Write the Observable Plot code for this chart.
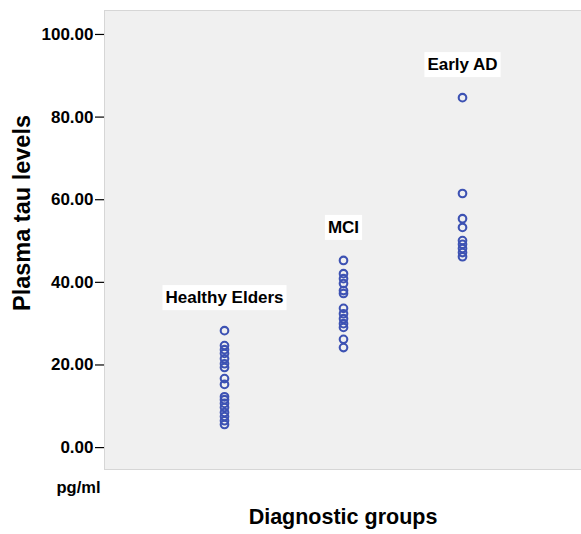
<!DOCTYPE html>
<html>
<head>
<meta charset="utf-8">
<script src="https://cdn.jsdelivr.net/npm/d3@7"></script>
<script src="https://cdn.jsdelivr.net/npm/@observablehq/plot@0.6"></script>
<style>
  html, body { margin: 0; padding: 0; background: #ffffff; }
  #chart svg { display: block; }
</style>
</head>
<body>
<div id="chart"></div>
<script>
const groups = ["Healthy Elders", "MCI", "Early AD"];
const healthyElders = [28.3, 24.7, 23.7, 22.8, 21.5, 20.3, 19.4, 16.7, 15.3, 12.3, 11.6, 10.7, 9.7, 8.5, 7.5, 6.5, 5.6];
const mci = [45.3, 42.1, 40.9, 39.7, 38.0, 37.3, 33.7, 32.4, 31.2, 30.0, 29.1, 26.2, 24.2];
const earlyAD = [84.7, 61.5, 55.4, 53.3, 50.1, 49.2, 48.2, 47.2, 46.2];
const yTicks = [0, 20, 40, 60, 80, 100];
const yLabel = "Plasma tau levels";
const xLabel = "Diagnostic groups";
const unitLabel = "pg/ml";

const series = [healthyElders, mci, earlyAD];
const points = groups.flatMap((g, i) => series[i].map(v => ({group: g, value: v})));
const labels = groups.map((g, i) => ({group: g, value: d3.max(series[i])}));

const font = "'Liberation Sans', Arial, sans-serif";

const chart = Plot.plot({
  width: 581,
  height: 534,
  marginLeft: 104,
  marginRight: 0,
  marginTop: 10,
  marginBottom: 65,
  style: {fontFamily: font, background: "#ffffff", color: "#000"},
  x: {type: "point", domain: groups, padding: 1, axis: null},
  y: {domain: [-5.3, 105.8], axis: null},
  marks: [
    Plot.frame({fill: "#f0f0f0", stroke: "#d6d6d6"}),
    Plot.axisY({
      ticks: yTicks, tickFormat: d3.format(".2f"), tickSize: 9, tickPadding: 2,
      fontSize: 17, fontWeight: "bold", label: null, stroke: "#000", strokeWidth: 1.2
    }),
    Plot.dot(points, {x: "group", y: "value", r: 3.8, stroke: "#3d52b3", strokeWidth: 2.1, fill: "none"}),
    Plot.text(labels, {x: "group", y: "value", text: "group", dy: -33, fontSize: 17, fontWeight: "bold", fill: "#000"}),
    Plot.text([yLabel], {frameAnchor: "left", text: d => d, rotate: -90, textAnchor: "middle", dx: -82, dy: -27, fontSize: 23.5, fontWeight: "bold", fill: "#000"}),
    Plot.text([xLabel], {frameAnchor: "bottom", text: d => d, dx: 0, dy: 54, fontSize: 21.5, fontWeight: "bold", fill: "#000"}),
    Plot.text([unitLabel], {frameAnchor: "bottom-left", text: d => d, textAnchor: "middle", dx: -26, dy: 23, fontSize: 16.5, fontWeight: "bold", fill: "#000"})
  ]
});
document.getElementById("chart").append(chart);

// white boxes behind the group labels
d3.select(chart).selectAll("text").filter(function() {
  return groups.includes(this.textContent);
}).each(function() {
  const bb = this.getBBox();
  const tr = this.getAttribute("transform");
  const r = d3.select(this.parentNode).insert("rect", () => this)
    .attr("x", bb.x - 3).attr("y", bb.y - 3)
    .attr("width", bb.width + 6).attr("height", bb.height + 6)
    .attr("fill", "#ffffff");
  if (tr) r.attr("transform", tr);
});
</script>
</body>
</html>
